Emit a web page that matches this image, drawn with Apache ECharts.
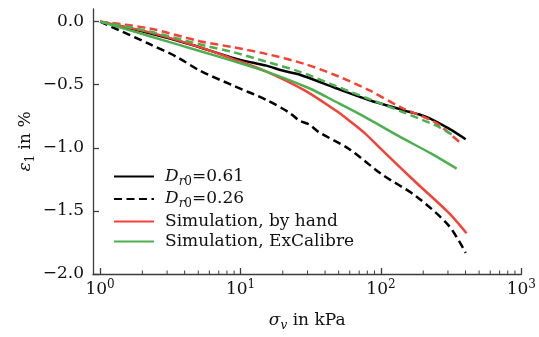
<!DOCTYPE html>
<html>
<head>
<meta charset="utf-8">
<script src="https://cdn.jsdelivr.net/npm/echarts@6/dist/echarts.min.js"></script>
<style>
  html, body { margin: 0; padding: 0; background: #fff; }
  #chart { width: 539px; height: 337px; }
</style>
</head>
<body>
<div id="chart"></div>
<script>
// Oedometric compression: vertical strain vs. vertical stress (log scale)

// Experiment, Dr0 = 0.61
const expDenseX = [1, 2.26, 4.35, 9.37, 15.3, 19.9, 26.2, 48, 82.2, 141, 208, 303, 401];
const expDenseY = [0, -0.093, -0.179, -0.295, -0.349, -0.388, -0.419, -0.528, -0.621, -0.699, -0.753, -0.846, -0.932];

// Experiment, Dr0 = 0.26
const expLooseX = [1, 2.26, 3.52, 5.12, 8.78, 15.3, 22.3, 26.2, 30.8, 36.3, 59.3, 101.6, 177, 303, 401];
const expLooseY = [0, -0.179, -0.280, -0.388, -0.505, -0.621, -0.722, -0.784, -0.815, -0.877, -1.009, -1.211, -1.382, -1.615, -1.832];

// Simulation by hand: loose (solid) and dense (dashed)
const handLooseX = [1, 2.26, 5.12, 8.78, 15.3, 28.4, 48, 59.3, 78.3, 101.6, 177, 303, 407];
const handLooseY = [0, -0.085, -0.202, -0.295, -0.396, -0.543, -0.707, -0.784, -0.893, -1.017, -1.273, -1.514, -1.677];
const handDenseX = [1, 2.26, 5.12, 8.78, 15.3, 28.4, 48, 82.2, 141, 245, 319, 375];
const handDenseY = [0, -0.054, -0.155, -0.202, -0.256, -0.334, -0.427, -0.543, -0.683, -0.800, -0.901, -0.970];

// Simulation with ExCalibre: loose (solid) and dense (dashed)
const excLooseX = [1, 2.26, 5.12, 8.78, 15.3, 30.8, 48, 78.3, 134, 230, 346];
const excLooseY = [0, -0.116, -0.233, -0.311, -0.396, -0.528, -0.637, -0.761, -0.908, -1.048, -1.165];
const excDenseX = [1, 2.26, 5.74, 8.78, 15.3, 26.2, 48, 82.2, 141, 245, 319];
const excDenseY = [0, -0.078, -0.194, -0.241, -0.318, -0.396, -0.512, -0.613, -0.714, -0.823, -0.893];

// Axis ticks
const xMajorTicks = [1, 10, 100, 1000];
const xMinorTicks = [2, 3, 4, 5, 6, 7, 8, 9, 20, 30, 40, 50, 60, 70, 80, 90, 200, 300, 400, 500, 600, 700, 800, 900];
const yTicks = [-2.0, -1.5, -1.0, -0.5, 0.0];
const Y_MIN = -2.0;
const Y_MAX = 0.1;

const legendNames = ['Dr0=0.61', 'Dr0=0.26', 'Simulation, by hand', 'Simulation, ExCalibre'];

const FONT = 'DejaVu Serif';
const INK = '#111';
const RED = '#f44336';
const GREEN = '#4caf50';
const AXIS = '#3c3c3c';

function pairs(xs, ys) { return xs.map((x, i) => [x, ys[i]]); }

const rich = {
  t: { fontFamily: FONT, fontSize: 17, lineHeight: 22, color: INK },
  i: { fontFamily: FONT, fontSize: 17, lineHeight: 22, color: INK, fontStyle: 'italic' },
  s: { fontFamily: FONT, fontSize: 12, lineHeight: 12, color: INK, verticalAlign: 'bottom' },
  si: { fontFamily: FONT, fontSize: 12, lineHeight: 12, color: INK, fontStyle: 'italic', verticalAlign: 'bottom' },
  p: { fontFamily: FONT, fontSize: 12, lineHeight: 10, color: INK, verticalAlign: 'top' }
};

function legendLabel(name) {
  if (name === 'Dr0=0.61') return '{i|D}{si|r}{s|0}{t|=0.61}';
  if (name === 'Dr0=0.26') return '{i|D}{si|r}{s|0}{t|=0.26}';
  return '{t|' + name + '}';
}

function lineSeries(name, xs, ys, color, dashed, z) {
  return {
    name: name,
    type: 'line',
    data: pairs(xs, ys),
    symbol: 'circle',
    showSymbol: false,
    smooth: 0.3,
    z: z,
    lineStyle: { color: color, width: 2.5, type: dashed ? [8, 4.5] : 'solid', cap: 'butt' },
    itemStyle: { color: color },
    emphasis: { disabled: true }
  };
}

// short upward ticks on the bottom axis at the minor log positions
const minorTickSeries = {
  name: 'minor ticks',
  type: 'custom',
  silent: true,
  clip: false,
  z: 1,
  data: xMinorTicks.map(v => [v, Y_MIN]),
  renderItem: (params, api) => {
    const p = api.coord([api.value(0), api.value(1)]);
    return {
      type: 'line',
      shape: { x1: p[0], y1: p[1], x2: p[0], y2: p[1] - 3.5 },
      style: { stroke: AXIS, lineWidth: 1 }
    };
  }
};

const chart = echarts.init(document.getElementById('chart'), null, { renderer: 'canvas' });

chart.setOption({
  animation: false,
  backgroundColor: '#fff',
  grid: { left: 93, right: 16, top: 9, height: 269, containLabel: false },
  legend: {
    data: legendNames,
    orient: 'vertical',
    left: 108,
    top: 163,
    itemWidth: 40,
    itemHeight: 14,
    itemGap: 3,
    formatter: legendLabel,
    itemStyle: { opacity: 0, borderWidth: 0 },
    textStyle: { rich: rich, padding: [0, 0, 0, 6] },
    selectedMode: false
  },
  xAxis: {
    type: 'log',
    logBase: 10,
    min: 0.89,
    max: 1000,
    position: 'bottom',
    splitLine: { show: false },
    axisLine: { show: true, onZero: false, lineStyle: { color: AXIS, width: 1.3 } },
    axisTick: { show: true, inside: true, length: 6, customValues: xMajorTicks, lineStyle: { color: AXIS, width: 1.3 } },
    axisLabel: {
      show: true,
      margin: 5,
      customValues: xMajorTicks,
      formatter: v => '{t|10}{p|' + Math.round(Math.log10(v)) + '}',
      rich: rich
    },
    name: '{i|σ}{si|v}{t| in kPa}',
    nameLocation: 'middle',
    nameGap: 36,
    nameMoveOverlap: false,
    nameTextStyle: { rich: rich }
  },
  yAxis: {
    type: 'value',
    min: Y_MIN,
    max: Y_MAX,
    interval: 0.5,
    splitLine: { show: false },
    axisLine: { show: true, onZero: false, lineStyle: { color: AXIS, width: 1.3 } },
    axisTick: { show: true, inside: true, length: 6, customValues: yTicks, lineStyle: { color: AXIS, width: 1.3 } },
    axisLabel: {
      margin: 9,
      customValues: yTicks,
      formatter: v => '{t|' + (v < 0 ? '\u2212' : '') + Math.abs(v).toFixed(1) + '}',
      rich: rich
    },
    name: '{i|ε}{s|1}{t| in %}',
    nameLocation: 'middle',
    nameGap: 56,
    nameMoveOverlap: false,
    nameTextStyle: { rich: rich }
  },
  series: [
    lineSeries('Dr0=0.61', expDenseX, expDenseY, '#000', false, 2),
    lineSeries('Dr0=0.26', expLooseX, expLooseY, '#000', true, 2),
    lineSeries('Simulation, by hand', handLooseX, handLooseY, RED, false, 3),
    lineSeries('Simulation, ExCalibre', excLooseX, excLooseY, GREEN, false, 3),
    lineSeries('Simulation, by hand (dense)', handDenseX, handDenseY, RED, true, 3),
    lineSeries('Simulation, ExCalibre (dense)', excDenseX, excDenseY, GREEN, true, 3),
    minorTickSeries
  ]
});
</script>
</body>
</html>
